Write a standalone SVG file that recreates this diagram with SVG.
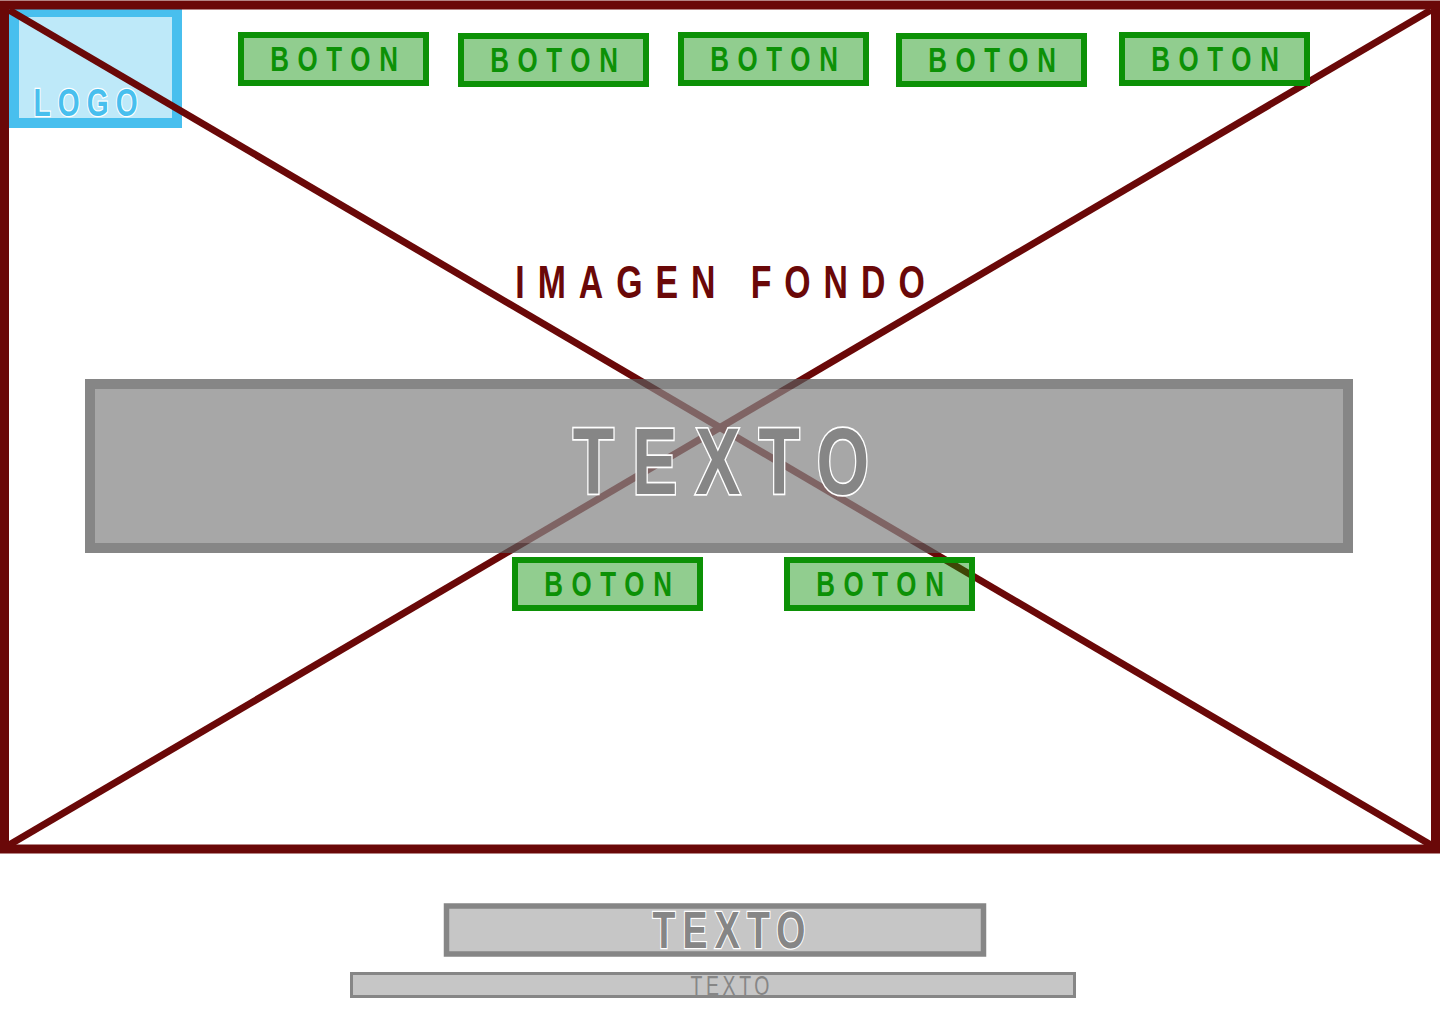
<svg xmlns="http://www.w3.org/2000/svg" width="1440" height="1024" viewBox="0 0 1440 1024">
<style>
.btn rect{fill:#0c9106;fill-opacity:0.45;stroke:#0c9106;stroke-width:6}
.btn text{fill:#0c9106;font-family:"Liberation Sans",Arial,sans-serif;font-weight:bold;font-size:36px;letter-spacing:12px;text-anchor:middle}
.lbl{font-family:"Liberation Sans",Arial,sans-serif;text-anchor:middle}
</style>
<rect width="1440" height="1024" fill="#ffffff"/>
<g id="logo">
<rect x="14" y="12" width="163" height="111" fill="#bee9f9" stroke="#48bfee" stroke-width="10"/>
<text class="lbl" transform="translate(85.5,116) scale(0.72,1)" x="5" font-size="39" font-weight="bold" letter-spacing="10" fill="#48bfee" stroke="#ffffff" stroke-width="2.5" paint-order="stroke">LOGO</text>
</g>
<g id="connectors">
<line x1="9" y1="10" x2="1431" y2="845" stroke="#6a0808" stroke-width="7"/>
<line x1="1431" y1="10" x2="9" y2="845" stroke="#6a0808" stroke-width="7"/>
</g>
<g id="frame">
<rect x="4.5" y="5" width="1431" height="844" fill="none" stroke="#6a0808" stroke-width="9"/>
<text class="lbl" transform="translate(720,298) scale(0.72,1)" x="9" font-size="47" font-weight="bold" letter-spacing="18" fill="#6a0808">IMAGEN FONDO</text>
</g>
<g id="btn1" class="btn"><rect x="241" y="35" width="185" height="48"/><text transform="translate(334,71) scale(0.72,1)" x="6">BOTON</text></g>
<g id="btn2" class="btn"><rect x="461" y="36" width="185" height="48"/><text transform="translate(554,72) scale(0.72,1)" x="6">BOTON</text></g>
<g id="btn3" class="btn"><rect x="681" y="35" width="185" height="48"/><text transform="translate(774,71) scale(0.72,1)" x="6">BOTON</text></g>
<g id="btn4" class="btn"><rect x="899" y="36" width="185" height="48"/><text transform="translate(992,72) scale(0.72,1)" x="6">BOTON</text></g>
<g id="btn5" class="btn"><rect x="1122" y="35" width="185" height="48"/><text transform="translate(1215,71) scale(0.72,1)" x="6">BOTON</text></g>
<g id="texto-main">
<rect x="90" y="384" width="1258" height="164" fill="#878787" stroke="#5a5a5a" stroke-width="10" opacity="0.73"/>
<text class="lbl" transform="translate(721,494) scale(0.72,1)" x="12.5" font-size="94" font-weight="bold" letter-spacing="25" fill="#868686" stroke="#ffffff" stroke-width="3.5" paint-order="stroke">TEXTO</text>
</g>
<g id="btn6" class="btn"><rect x="515" y="560" width="185" height="48"/><text transform="translate(608,596) scale(0.72,1)" x="6">BOTON</text></g>
<g id="btn7" class="btn"><rect x="787" y="560" width="185" height="48"/><text transform="translate(880,596) scale(0.72,1)" x="6">BOTON</text></g>
<g id="texto2">
<rect x="446.5" y="906" width="537" height="48" fill="#c6c6c6" stroke="#868686" stroke-width="5.5"/>
<text class="lbl" transform="translate(729,948) scale(0.72,1)" x="5" font-size="52" font-weight="bold" letter-spacing="10" fill="#868686" stroke="#ffffff" stroke-width="2.5" paint-order="stroke">TEXTO</text>
</g>
<g id="texto3">
<rect x="351.5" y="973.5" width="723" height="23" fill="#c6c6c6" stroke="#868686" stroke-width="3"/>
<text class="lbl" transform="translate(730,995) scale(0.72,1)" x="2.5" font-size="27" letter-spacing="5" fill="#868686">TEXTO</text>
</g>
</svg>
